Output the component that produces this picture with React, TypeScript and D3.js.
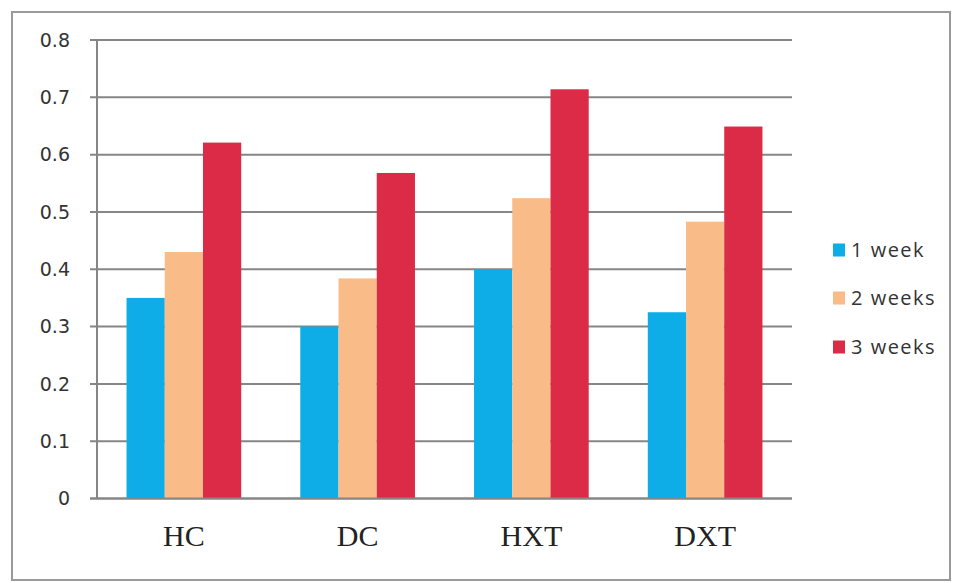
import React from "react";
import * as d3 from "d3";

const categories = ["HC", "DC", "HXT", "DXT"];
const seriesNames = ["1 week", "2 weeks", "3 weeks"];
const week1 = [0.35, 0.3, 0.4, 0.325];
const week2 = [0.43, 0.384, 0.524, 0.483];
const week3 = [0.621, 0.568, 0.714, 0.649];
const colors = ["#0FADE8", "#F9BB87", "#DC2B46"];
const yTicks = [0, 0.1, 0.2, 0.3, 0.4, 0.5, 0.6, 0.7, 0.8];

const W = 962;
const H = 583;
const left = 97;
const right = 792;
const top = 40;
const bottom = 498.5;

export default function App() {
  const series = [week1, week2, week3];
  const x = d3.scaleBand<string>().domain(categories).range([left, right]).paddingInner(0.34).paddingOuter(0.17);
  const xs = d3.scaleBand<string>().domain(seriesNames).range([0, x.bandwidth()]);
  const y = d3.scaleLinear().domain([0, 0.8]).range([bottom, top]);
  const fmt = (v: number) => (v === 0 ? "0" : d3.format(".1f")(v));
  const legendY = [250, 298, 347];

  return (
    <svg width={W} height={H} style={{ position: "absolute", left: 0, top: 0, background: "#fff" }}>
      <rect x={12} y={12} width={938} height={568} fill="#fff" stroke="#9a9a9a" strokeWidth={2} />
      {yTicks.map((t) => (
        <g key={t}>
          <line x1={90} x2={right} y1={y(t)} y2={y(t)} stroke="#868686" strokeWidth={2} />
          <text
            x={70}
            y={y(t)}
            dy="0.36em"
            textAnchor="end"
            fontFamily="DejaVu Sans"
            fontSize={19}
            fill="#333"
          >
            {fmt(t)}
          </text>
        </g>
      ))}
      <line x1={left} x2={left} y1={top} y2={bottom} stroke="#868686" strokeWidth={2} />
      {categories.map((c, i) => (
        <g key={c}>
          {series.map((s, j) => (
            <rect
              key={j}
              x={(x(c) as number) + (xs(seriesNames[j]) as number)}
              y={y(s[i])}
              width={xs.bandwidth()}
              height={bottom - y(s[i])}
              fill={colors[j]}
            />
          ))}
          <text
            x={(x(c) as number) + x.bandwidth() / 2}
            y={546}
            textAnchor="middle"
            fontFamily="Liberation Serif"
            fontSize={30}
            fill="#222"
          >
            {c}
          </text>
        </g>
      ))}
      <line x1={90} x2={right} y1={bottom} y2={bottom} stroke="#868686" strokeWidth={2} />
      {seriesNames.map((n, j) => (
        <g key={n}>
          <rect x={833} y={legendY[j] - 6.5} width={12} height={13} fill={colors[j]} />
          <text
            x={851}
            y={legendY[j]}
            dy="0.36em"
            fontFamily="Open Sans"
            fontSize={20}
            letterSpacing={1.5}
            fill="#333"
          >
            {n}
          </text>
        </g>
      ))}
    </svg>
  );
}
